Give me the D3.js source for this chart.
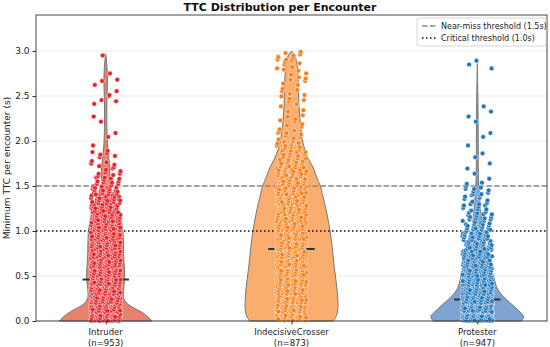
<!DOCTYPE html>
<html>
<head>
<meta charset="utf-8">
<script src="https://cdn.jsdelivr.net/npm/d3@7"></script>
<style>
  body { margin: 0; background: #fff; }
  svg { font-family: "DejaVu Sans", sans-serif; }
</style>
</head>
<body>
<svg id="chart" width="550" height="347"></svg>
<script>
// --- data ---
const categories = ["Intruder", "IndecisiveCrosser", "Protester"];
const counts = [953, 873, 947];
const medians = [0.46, 0.80, 0.24];
const pointColors = ["#e3242b", "#f7801c", "#2277bb"];
const violinColors = ["#e8826a", "#f9ad6f", "#7ea2d2"];

// number of points in each 0.1-wide bin, from 0.0 up to 3.0
const intruderBins = [170, 100, 80, 70, 65, 53, 51, 48, 46, 43,
                      49, 45, 35, 28, 22, 12, 8, 6, 6, 1,
                      2, 0, 2, 0, 4, 2, 3, 1, 0, 1];
const crosserBins = [50, 56, 57, 56, 55, 55, 54, 54, 49, 48,
                     43, 41, 39, 36, 32, 26, 22, 18, 14, 11,
                     8, 6, 5, 4, 5, 5, 5, 5, 6, 8];
const protesterBins = [215, 190, 168, 70, 55, 48, 40, 33, 27, 22,
                       18, 14, 10, 8, 9, 3, 2, 1, 2, 1,
                       2, 0, 2, 2, 0, 0, 0, 0, 3, 0];

// violin outline: [value, relative half width]
const intruderViolin = [[0, 1.0], [0.05, 0.9], [0.1, 0.77], [0.15, 0.59], [0.2, 0.45], [0.25, 0.39],
  [0.3, 0.38], [0.5, 0.41], [0.7, 0.39], [0.9, 0.38], [1.0, 0.37], [1.1, 0.34], [1.2, 0.30],
  [1.3, 0.23], [1.4, 0.16], [1.5, 0.10], [1.6, 0.09], [1.7, 0.09], [1.8, 0.07], [1.9, 0.05],
  [2.0, 0.035], [2.2, 0.025], [2.4, 0.025], [2.6, 0.035], [2.75, 0.035], [2.9, 0.015], [2.97, 0.0]];
const crosserViolin = [[0, 0.9], [0.05, 0.96], [0.1, 0.99], [0.2, 1.0], [0.4, 0.97], [0.6, 0.92],
  [0.8, 0.88], [1.0, 0.83], [1.2, 0.76], [1.4, 0.67], [1.5, 0.62], [1.6, 0.54], [1.7, 0.47],
  [1.8, 0.37], [1.9, 0.29], [2.0, 0.24], [2.2, 0.19], [2.4, 0.16], [2.6, 0.15], [2.8, 0.13],
  [2.9, 0.10], [2.95, 0.07], [3.0, 0.0]];
const protesterViolin = [[0, 0.95], [0.05, 1.0], [0.1, 0.92], [0.15, 0.82], [0.2, 0.71], [0.25, 0.6],
  [0.3, 0.51], [0.35, 0.44], [0.4, 0.4], [0.5, 0.35], [0.6, 0.29], [0.7, 0.24], [0.8, 0.19],
  [0.9, 0.15], [1.0, 0.12], [1.2, 0.08], [1.4, 0.045], [1.6, 0.025], [2.0, 0.02], [2.4, 0.015], [2.86, 0.0]];

const yTicks = [0, 0.5, 1.0, 1.5, 2.0, 2.5, 3.0];
const thresholds = [
  { value: 1.5, label: "Near-miss threshold (1.5s)", color: "#888", dash: "5.5,2.4" },
  { value: 1.0, label: "Critical threshold (1.0s)", color: "#111", dash: "1.5,2.5" }
];

const allBins = [intruderBins, crosserBins, protesterBins];
const allViolins = [intruderViolin, crosserViolin, protesterViolin];

// --- layout ---
const svg = d3.select("#chart");
const plotLeft = 36, plotRight = 547, plotTop = 15, plotBottom = 321;

const x = d3.scaleLinear().domain([-0.375, 2.375]).range([plotLeft, plotRight]);
const y = d3.scaleLinear().domain([0, 3.4]).range([plotBottom, plotTop]);
const halfWidth = 0.25;   // max violin half width, in category units
const jitter = 0.08;
const binSize = 0.1;

// grid
svg.append("g").selectAll("line").data(yTicks).join("line")
  .attr("x1", plotLeft).attr("x2", plotRight)
  .attr("y1", d => y(d)).attr("y2", d => y(d))
  .attr("stroke", "#e6e6e6").attr("stroke-width", 0.8);

// violins
const area = d3.area()
  .curve(d3.curveCatmullRom)
  .y(d => y(d[0]));

allViolins.forEach((v, i) => {
  area.x0(d => x(i - d[1] * halfWidth)).x1(d => x(i + d[1] * halfWidth));
  svg.append("path")
    .attr("d", area(v))
    .attr("fill", violinColors[i])
    .attr("stroke", "#777")
    .attr("stroke-width", 1);
});

// threshold lines
thresholds.forEach(t => {
  svg.append("line")
    .attr("x1", plotLeft).attr("x2", plotRight)
    .attr("y1", y(t.value)).attr("y2", y(t.value))
    .attr("stroke", t.color).attr("stroke-width", 1.4)
    .attr("stroke-dasharray", t.dash);
});

// median marks
svg.append("g").selectAll("line").data(medians).join("line")
  .attr("x1", (d, i) => x(i - 0.125)).attr("x2", (d, i) => x(i + 0.125))
  .attr("y1", d => y(d)).attr("y2", d => y(d))
  .attr("stroke", "#333").attr("stroke-width", 2);

// strip points: spread inside each bin, jittered sideways
allBins.forEach((bins, i) => {
  const pts = [];
  let n = 0;
  bins.forEach((k, b) => {
    for (let j = 0; j < k; j++) {
      n++;
      const s = k === 1 ? 0.5 : ((j + 0.5) * 0.5698402910 + 0.13 * b) % 1;
      const t = (n * 0.7548776662 + i * 0.31) % 1;
      pts.push({ v: (b + s) * binSize, off: (t - 0.5) * 2 * jitter });
    }
  });
  svg.append("g").selectAll("circle").data(pts).join("circle")
    .attr("cx", d => x(i + d.off))
    .attr("cy", d => y(d.v))
    .attr("r", 2.4)
    .attr("fill", pointColors[i])
    .attr("stroke", "#fff")
    .attr("stroke-width", 0.5);
});

// frame
svg.append("rect")
  .attr("x", plotLeft).attr("y", plotTop)
  .attr("width", plotRight - plotLeft).attr("height", plotBottom - plotTop)
  .attr("fill", "none").attr("stroke", "#333").attr("stroke-width", 0.9);

// y axis
const yAxis = svg.append("g")
  .attr("transform", `translate(${plotLeft},0)`)
  .call(d3.axisLeft(y).tickValues(yTicks).tickFormat(d3.format(".1f")).tickSize(3.5).tickPadding(3));
yAxis.select(".domain").remove();
yAxis.selectAll("text").attr("font-size", 9).attr("fill", "#222")
  .attr("font-family", "DejaVu Sans");
yAxis.selectAll("line").attr("stroke", "#333");

// x axis
const xAxis = svg.append("g")
  .attr("transform", `translate(0,${plotBottom})`)
  .call(d3.axisBottom(x).tickValues([0, 1, 2]).tickFormat("").tickSize(3.5));
xAxis.select(".domain").remove();
xAxis.selectAll("line").attr("stroke", "#333");

categories.forEach((c, i) => {
  const t = svg.append("text")
    .attr("x", x(i)).attr("y", plotBottom + 14)
    .attr("text-anchor", "middle")
    .attr("font-size", 8.5).attr("fill", "#222");
  t.append("tspan").attr("x", x(i)).text(c);
  t.append("tspan").attr("x", x(i)).attr("dy", 10.5).text(`(n=${counts[i]})`);
});

// labels
svg.append("text")
  .attr("transform", `translate(10,${(plotTop + plotBottom) / 2}) rotate(-90)`)
  .attr("text-anchor", "middle")
  .attr("font-size", 9).attr("fill", "#222")
  .text("Minimum TTC per encounter (s)");

svg.append("text")
  .attr("x", 280).attr("y", 11)
  .attr("text-anchor", "middle")
  .attr("font-size", 11).attr("font-weight", "bold").attr("fill", "#111")
  .text("TTC Distribution per Encounter");

// legend
const lg = svg.append("g").attr("transform", "translate(417,18)");
lg.append("rect")
  .attr("width", 129).attr("height", 28).attr("rx", 2)
  .attr("fill", "#fff").attr("fill-opacity", 0.85)
  .attr("stroke", "#ccc").attr("stroke-width", 0.8);
thresholds.forEach((t, i) => {
  const cy = 8 + i * 12;
  lg.append("line")
    .attr("x1", 5).attr("x2", 20).attr("y1", cy).attr("y2", cy)
    .attr("stroke", t.color).attr("stroke-width", 1.4)
    .attr("stroke-dasharray", t.dash);
  lg.append("text")
    .attr("x", 24).attr("y", cy + 2.8)
    .attr("font-size", 8).attr("fill", "#222")
    .text(t.label);
});
</script>
</body>
</html>
